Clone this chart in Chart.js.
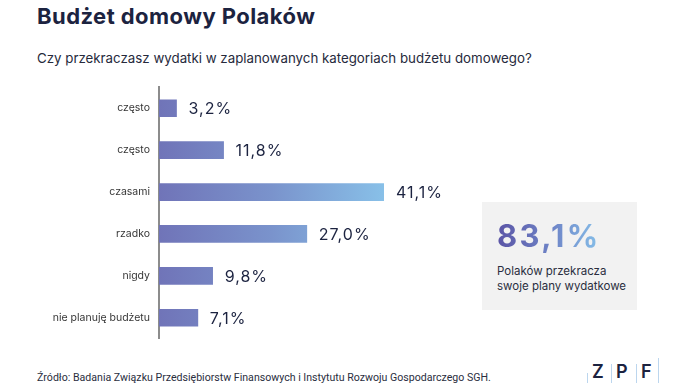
<!DOCTYPE html>
<html lang="pl">
<head>
    <meta charset="UTF-8">
    <title>Budżet domowy Polaków</title>
    <script src="https://cdn.jsdelivr.net/npm/chart.js"></script>
    <style>
        body { margin: 0; width: 695px; height: 391px; background: #fff; position: relative; overflow: hidden; font-family: Inter, "Noto Sans", sans-serif; color: #1c2340; }
        .abs { position: absolute; white-space: nowrap; }
        #title { left: 37px; top: 3px; font-size: 22px; font-weight: 700; letter-spacing: 0.45px; }
        #subtitle { left: 37px; top: 50px; font-size: 13.3px; color: #262a3c; }
        #chartBox { left: 0; top: 72px; width: 470px; height: 282px; }
        #card { left: 482px; top: 202px; width: 155px; height: 108px; background: #f2f2f2; }
        #big { left: 15px; top: 15px; font-size: 31px; font-weight: 700; letter-spacing: 2.3px; background: linear-gradient(90deg, #5b55a6 0%, #6f86c8 55%, #86bfe9 100%); -webkit-background-clip: text; background-clip: text; color: transparent; }
        #cardText { left: 15px; top: 62px; font-size: 11.5px; line-height: 15px; color: #2a2e40; }
        #source { left: 37px; top: 371px; font-size: 10.6px; color: #2a2e40; font-family: Roboto, sans-serif; }
        .bar { position: absolute; width: 1px; background: #bcd6ee; }
        .lt { position: absolute; top: 361px; font-size: 18px; font-weight: 600; color: #1c2340; }
    </style>
</head>
<body>
    <div id="title" class="abs">Budżet domowy Polaków</div>
    <div id="subtitle" class="abs">Czy przekraczasz wydatki w zaplanowanych kategoriach budżetu domowego?</div>

    <div id="chartBox" class="abs">
        <canvas id="myChart"></canvas>
    </div>

    <div id="card" class="abs">
        <div id="big" class="abs">83,1%</div>
        <div id="cardText" class="abs">Polaków przekracza<br>swoje plany wydatkowe</div>
    </div>

    <div id="source" class="abs">Źródło: Badania Związku Przedsiębiorstw Finansowych i Instytutu Rozwoju Gospodarczego SGH.</div>

    <!-- logo ZPF -->
    <div class="bar" style="left:587px; top:373px; height:10px"></div>
    <div class="lt" style="left:592px">Z</div>
    <div class="bar" style="left:611px; top:364px; height:19px"></div>
    <div class="lt" style="left:616px">P</div>
    <div class="bar" style="left:636px; top:364px; height:19px"></div>
    <div class="lt" style="left:641px">F</div>
    <div class="bar" style="left:658px; top:358px; height:25px"></div>

    <script>
        // dane
        const categories = ['często', 'często', 'czasami', 'rzadko', 'nigdy', 'nie planuję budżetu'];
        const values = [3.2, 11.8, 41.1, 27.0, 9.8, 7.1];

        // etykiety z wartością przy końcu słupka
        const valueLabels = {
            id: 'valueLabels',
            afterDatasetsDraw(chart) {
                const ctx = chart.ctx;
                const meta = chart.getDatasetMeta(0);
                ctx.save();
                ctx.font = '16px Inter, sans-serif';
                ctx.letterSpacing = '1px';
                ctx.fillStyle = '#1c2340';
                ctx.textAlign = 'left';
                ctx.textBaseline = 'middle';
                meta.data.forEach((bar, i) => {
                    const txt = values[i].toFixed(1).replace('.', ',') + '%';
                    ctx.fillText(txt, bar.x + 12, bar.y + 1);
                });
                ctx.restore();
            }
        };

        function barGradient(context) {
            const chart = context.chart;
            const area = chart.chartArea;
            if (!area) return '#7176b9';
            const g = chart.ctx.createLinearGradient(area.left, 0, area.right, 0);
            g.addColorStop(0, '#7074b8');
            g.addColorStop(0.5, '#7a93cc');
            g.addColorStop(1, '#88c0e8');
            return g;
        }

        const config = {
            type: 'bar',
            data: {
                labels: categories,
                datasets: [{
                    data: values,
                    backgroundColor: barGradient,
                    borderWidth: 0,
                    barThickness: 17
                }]
            },
            options: {
                indexAxis: 'y',
                responsive: true,
                maintainAspectRatio: false,
                animation: false,
                layout: { padding: { top: 0, bottom: 0, right: 86, left: 0 } },
                plugins: {
                    legend: { display: false },
                    tooltip: { enabled: false }
                },
                scales: {
                    x: {
                        display: false,
                        min: 0,
                        max: 41.1
                    },
                    y: {
                        afterFit(scale) { scale.width = 159; },
                        grid: { display: false, drawTicks: false },
                        border: { display: true, color: '#8c8c8c', width: 2 },
                        ticks: {
                            padding: 9,
                            color: '#363636',
                            font: { size: 10.5, family: 'Inter, sans-serif' }
                        }
                    }
                }
            },
            plugins: [valueLabels]
        };

        const ctx = document.getElementById('myChart').getContext('2d');
        new Chart(ctx, config);
    </script>
</body>
</html>
